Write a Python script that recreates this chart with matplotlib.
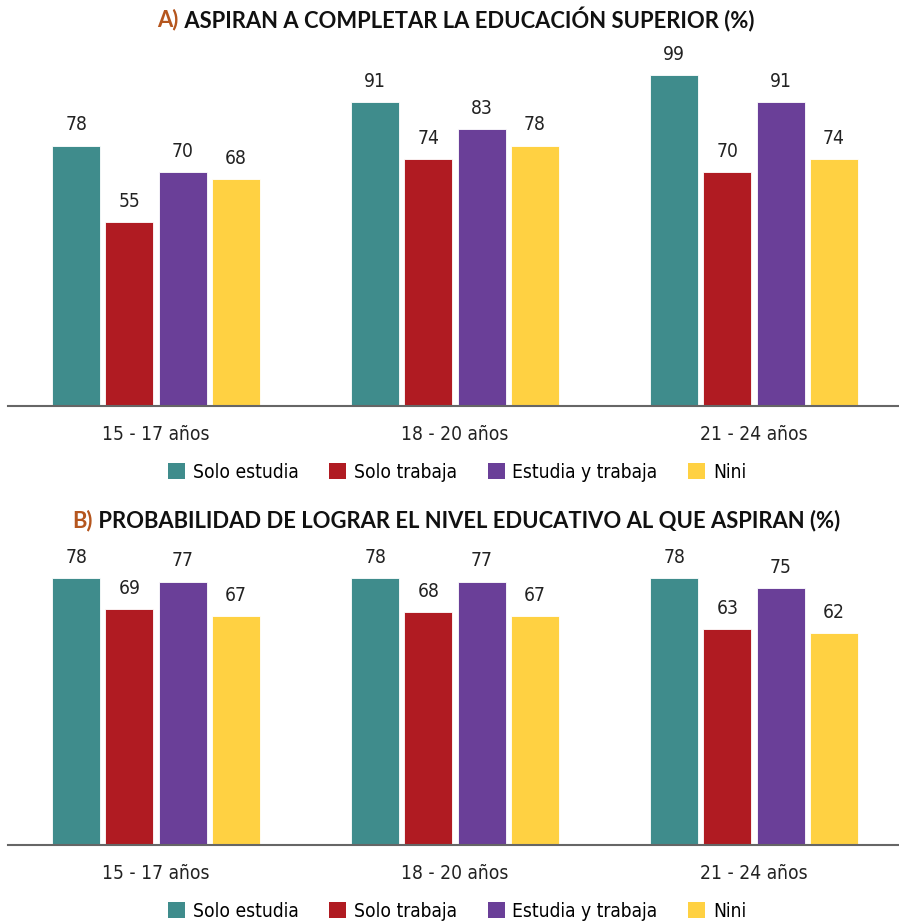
import matplotlib.pyplot as plt
from matplotlib import font_manager
from matplotlib.patches import Patch
import numpy as np

categories = ["15 - 17 años", "18 - 20 años", "21 - 24 años"]
series = ["Solo estudia", "Solo trabaja", "Estudia y trabaja", "Nini"]
colors = ["#3F8C8C", "#B01B22", "#6A3F98", "#FFD142"]

# A) aspiran a completar la educación superior (%)
a_solo_estudia = [78, 91, 99]
a_solo_trabaja = [55, 74, 70]
a_estudia_trabaja = [70, 83, 91]
a_nini = [68, 78, 74]

# B) probabilidad de lograr el nivel educativo al que aspiran (%)
b_solo_estudia = [78, 78, 78]
b_solo_trabaja = [69, 68, 63]
b_estudia_trabaja = [77, 77, 75]
b_nini = [67, 67, 62]

W, H = 899, 922
brown = "#B5561E"
title_font = "Lato"

# pick a narrow font if one is there
fonts = font_manager.fontManager.ttflist
names = {f.name for f in fonts}
if "Liberation Sans Narrow" in names:
    narrow = dict(family="Liberation Sans Narrow")
elif any(f.name == "DejaVu Sans" and f.stretch == "condensed" for f in fonts):
    narrow = dict(family="DejaVu Sans", stretch="condensed")
else:
    narrow = dict(family="Roboto")
fs = 14.5 if narrow["family"] == "Liberation Sans Narrow" else 13.8

fig = plt.figure(figsize=(W / 100, H / 100), dpi=100)


def px_axes(left, bottom_y, right, top_y):
    # pixel coordinates measured from top-left
    return fig.add_axes([left / W, 1 - bottom_y / H, (right - left) / W, (bottom_y - top_y) / H])


def panel(ax, data, ymax):
    x = np.arange(len(categories))
    step, width = 0.178, 0.16
    for i, (vals, c) in enumerate(zip(data, colors)):
        pos = x + (i - 1.5) * step
        bars = ax.bar(pos, vals, width=width, color=c, edgecolor="white", linewidth=0.6, zorder=2)
        for b, v in zip(bars, vals):
            ax.annotate(str(v), (b.get_x() + b.get_width() / 2, v), xytext=(0, 8),
                        textcoords="offset points", ha="center", va="bottom",
                        fontsize=fs, color="#222222", annotation_clip=False, **narrow)
    ax.set_xlim(-0.495, 2.485)
    ax.set_ylim(0, ymax)
    for s in ["top", "right", "left"]:
        ax.spines[s].set_visible(False)
    ax.spines["bottom"].set_color("#666666")
    ax.spines["bottom"].set_linewidth(1.5)
    ax.set_yticks([])
    ax.set_xticks(x)
    ax.set_xticklabels(categories, fontsize=fs, color="#222222", **narrow)
    ax.tick_params(axis="x", length=0, pad=14)


ax1 = px_axes(8, 406, 899, 40)
panel(ax1, [a_solo_estudia, a_solo_trabaja, a_estudia_trabaja, a_nini], 109.6)
ax2 = px_axes(8, 845, 899, 545)
panel(ax2, [b_solo_estudia, b_solo_trabaja, b_estudia_trabaja, b_nini], 87.7)

r = fig.canvas.get_renderer()


def title(y, letter, text, size, xc=456):
    full = letter + " " + text
    tmp = fig.text(0, 0, full, fontsize=size, fontweight="bold", family=title_font)
    wfull = tmp.get_window_extent(r).width
    tmp.remove()
    x0 = (xc - wfull / 2) / W
    a = fig.text(x0, 1 - y / H, letter, fontsize=size, fontweight="bold", family=title_font,
                 color=brown, va="center", ha="left")
    wa = a.get_window_extent(r).width
    fig.text(x0 + wa / W, 1 - y / H, " " + text, fontsize=size, fontweight="bold",
             family=title_font, color="#111111", va="center", ha="left")


title(20, "A)", "ASPIRAN A COMPLETAR LA EDUCACIÓN SUPERIOR (%)", 15.8)
title(521, "B)", "PROBABILIDAD DE LOGRAR EL NIVEL EDUCATIVO AL QUE ASPIRAN (%)", 15.8)

handles = [Patch(facecolor=c, edgecolor="none") for c in colors]
prop = font_manager.FontProperties(size=fs, **narrow)
for y in (472, 911):
    fig.legend(handles, series, loc="center", bbox_to_anchor=(457 / W, 1 - y / H), ncol=4,
               frameon=False, prop=prop, handlelength=0.9,
               handleheight=0.9, handletextpad=0.4, columnspacing=1.6, borderaxespad=0)

fig.savefig("out.png", dpi=100)
